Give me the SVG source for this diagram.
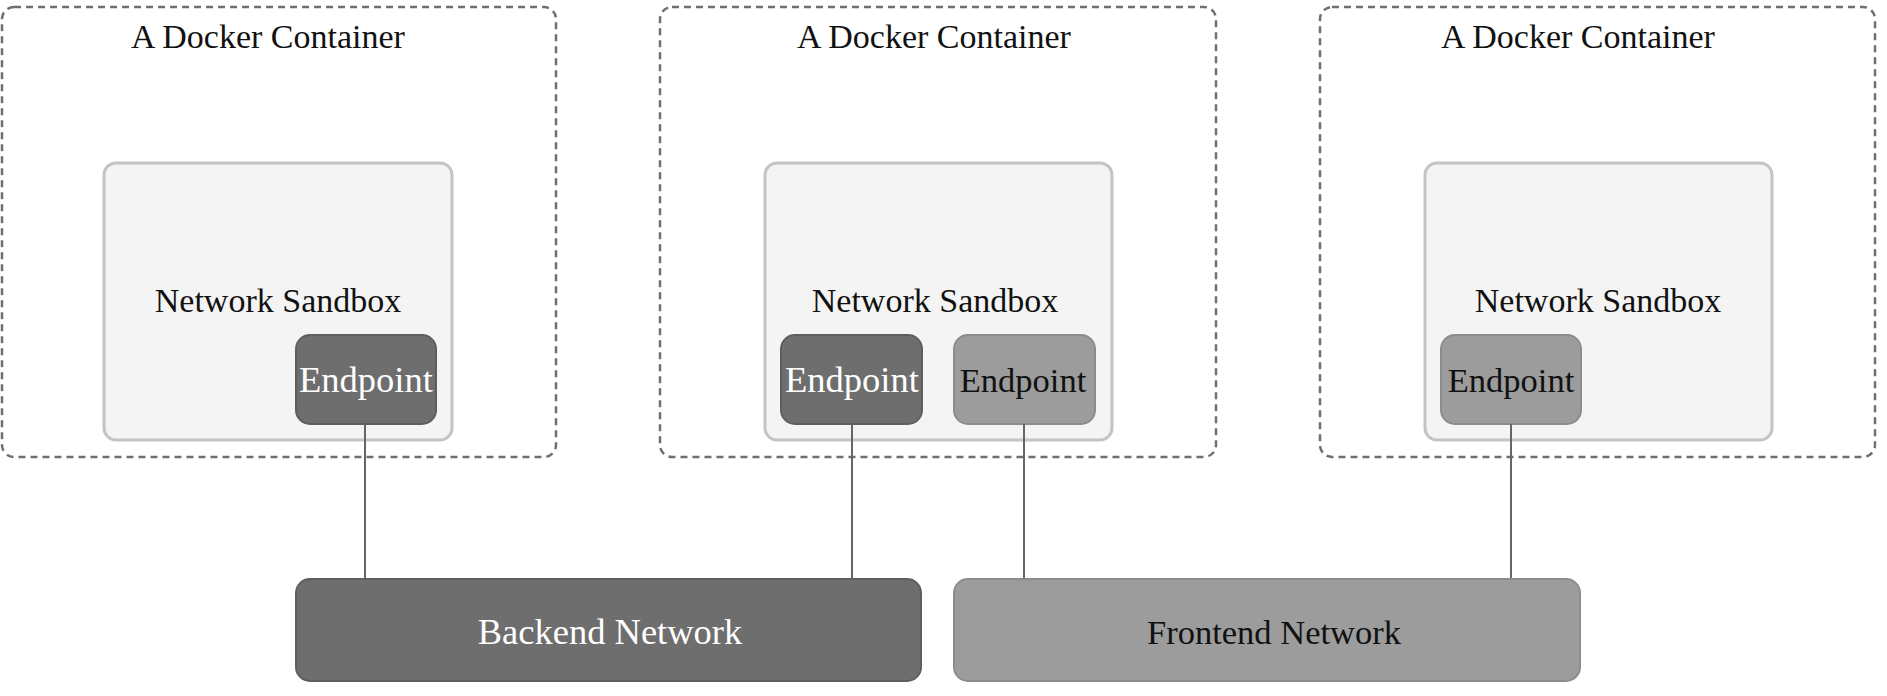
<svg xmlns="http://www.w3.org/2000/svg" width="1887" height="696" viewBox="0 0 1887 696">
<style>
.container{fill:#ffffff;stroke:#6f6f6f;stroke-width:2.5;stroke-dasharray:7 5}
.sandbox{fill:#f4f4f4;stroke:#c4c4c4;stroke-width:3}
.dark{fill:#6e6e6e;stroke:#5e5e5e;stroke-width:2}
.light{fill:#9c9c9c;stroke:#8c8c8c;stroke-width:2}
.t{font-family:"Liberation Serif","Times New Roman",serif;font-size:34px;text-anchor:middle;fill:#111}
.tw{font-family:"Liberation Serif","Times New Roman",serif;font-size:36.5px;text-anchor:middle;fill:#ffffff}
.ep{font-size:34.5px}
.conn{stroke:#666;stroke-width:2;fill:none}
</style>
<g id="container1">
<rect class="container" x="2" y="7" width="554" height="450" rx="12"/>
<text class="t" x="268" y="48">A Docker Container</text>
</g>
<g id="container2">
<rect class="container" x="660" y="7" width="556" height="450" rx="12"/>
<text class="t" x="934" y="48">A Docker Container</text>
</g>
<g id="container3">
<rect class="container" x="1320" y="7" width="555" height="450" rx="12"/>
<text class="t" x="1578" y="48">A Docker Container</text>
</g>
<g id="sandbox1">
<rect class="sandbox" x="104" y="163" width="348" height="277" rx="12"/>
<text class="t" x="278" y="312">Network Sandbox</text>
</g>
<g id="sandbox2">
<rect class="sandbox" x="765" y="163" width="347" height="277" rx="12"/>
<text class="t" x="935" y="312">Network Sandbox</text>
</g>
<g id="sandbox3">
<rect class="sandbox" x="1425" y="163" width="347" height="277" rx="12"/>
<text class="t" x="1598" y="312">Network Sandbox</text>
</g>
<g id="endpoint1">
<rect class="dark" x="296" y="335" width="140" height="89" rx="14"/>
<text class="tw" x="366" y="392">Endpoint</text>
</g>
<g id="endpoint2a">
<rect class="dark" x="781" y="335" width="141" height="89" rx="14"/>
<text class="tw" x="852" y="392">Endpoint</text>
</g>
<g id="endpoint2b">
<rect class="light" x="954" y="335" width="141" height="89" rx="14"/>
<text class="t ep" x="1023" y="392">Endpoint</text>
</g>
<g id="endpoint3">
<rect class="light" x="1441" y="335" width="140" height="89" rx="14"/>
<text class="t ep" x="1511" y="392">Endpoint</text>
</g>
<g id="connectors">
<line class="conn" x1="365" y1="424" x2="365" y2="579"/>
<line class="conn" x1="852" y1="424" x2="852" y2="579"/>
<line class="conn" x1="1024" y1="424" x2="1024" y2="579"/>
<line class="conn" x1="1511" y1="424" x2="1511" y2="579"/>
</g>
<g id="backend">
<rect class="dark" x="296" y="579" width="625" height="102" rx="14"/>
<text class="tw" x="610" y="644">Backend Network</text>
</g>
<g id="frontend">
<rect class="light" x="954" y="579" width="626" height="102" rx="14"/>
<text class="t ep" x="1274" y="644">Frontend Network</text>
</g>
</svg>
